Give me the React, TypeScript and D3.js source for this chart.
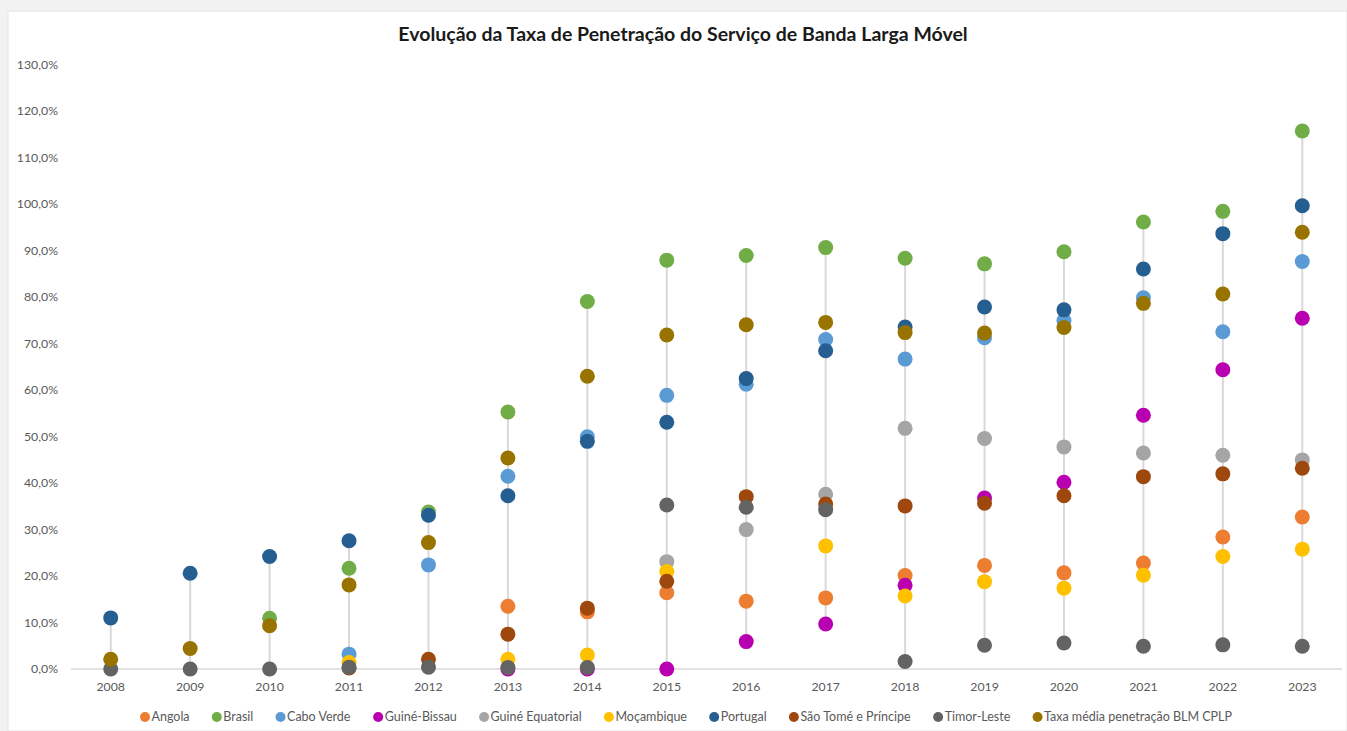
import React from "react";
import * as d3 from "d3";

const years = ["2008","2009","2010","2011","2012","2013","2014","2015","2016","2017","2018","2019","2020","2021","2022","2023"];
const yTicks = [0,10,20,30,40,50,60,70,80,90,100,110,120,130];

const angola = [null,null,null,null,null,13.5,12.3,16.4,14.6,15.3,20.1,22.3,20.7,22.8,28.4,32.7];
const brasil = [null,null,10.9,21.7,33.8,55.3,79.1,88.0,89.0,90.7,88.4,87.2,89.8,96.2,98.5,115.8];
const caboVerde = [null,null,null,3.2,22.4,41.5,50.0,58.9,61.3,70.9,66.7,71.3,75.0,79.9,72.6,87.7];
const guineBissau = [null,null,null,null,null,0,0,0,5.9,9.7,18.0,36.8,40.2,54.6,64.4,75.5];
const guineEquatorial = [null,null,null,null,null,null,null,23.1,30.0,37.6,51.8,49.6,47.8,46.5,46.0,45.0];
const mocambique = [null,null,null,1.4,null,2.1,3.0,21.0,null,26.5,15.7,18.8,17.4,20.2,24.2,25.8];
const portugal = [11.0,20.6,24.2,27.6,33.1,37.3,49.0,53.1,62.5,68.5,73.6,77.9,77.3,86.1,93.7,99.7];
const saoTome = [null,null,null,0.2,2.1,7.5,13.1,18.9,37.1,35.5,35.1,35.7,37.3,41.4,42.0,43.2];
const timor = [0,0,0,0.4,0.4,0.3,0.3,35.3,34.8,34.3,1.6,5.1,5.6,4.9,5.2,4.9];
const taxaMedia = [2.1,4.4,9.3,18.1,27.2,45.4,63.0,71.9,74.1,74.6,72.4,72.3,73.5,78.7,80.7,94.0];

const seriesNames = ["Angola","Brasil","Cabo Verde","Guiné-Bissau","Guiné Equatorial","Moçambique","Portugal","São Tomé e Príncipe","Timor-Leste","Taxa média penetração BLM CPLP"];
const seriesValues = [angola,brasil,caboVerde,guineBissau,guineEquatorial,mocambique,portugal,saoTome,timor,taxaMedia];
const seriesColors = ["#ED7D31","#70AD47","#5B9BD5","#B800B0","#A5A5A5","#FFC000","#255E91","#9E480E","#636363","#997300"];

const W = 1347, H = 731;
const FONT = "Lato, 'Open Sans', sans-serif";

function measure(text: string, size: number, weight = "normal") {
  if (typeof document === "undefined") return text.length * size * 0.5;
  const c = document.createElement("canvas");
  const ctx = c.getContext("2d")!;
  ctx.font = `${weight} ${size}px Lato`;
  return ctx.measureText(text).width;
}

export default function App() {
  const x = d3.scaleBand<string>().domain(years).range([71, 1342]);
  const y = d3.scaleLinear().domain([0, 130]).range([669, 65]);
  const cx = (yr: string) => (x(yr) ?? 0) + x.bandwidth() / 2;

  const ranges = years.map((yr, i) => {
    const vals = seriesValues.map((s) => s[i]).filter((v) => v !== null) as number[];
    return { yr, min: d3.min(vals) ?? 0, max: d3.max(vals) ?? 0 };
  });

  // legend layout
  const legSize = 12.5;
  const markerR = 5;
  const textGap = 1.5;
  const targetLeft = 140, targetRight = 1232;
  const widths = seriesNames.map((n) => markerR * 2 + textGap + measure(n, legSize));
  const itemGap = (targetRight - targetLeft - d3.sum(widths)) / (seriesNames.length - 1);
  let cur = targetLeft;
  const legendPos = widths.map((w) => {
    const p = cur;
    cur += w + itemGap;
    return p;
  });

  return (
    <svg width={W} height={H} style={{ position: "absolute", left: 0, top: 0, display: "block" }} fontFamily={FONT}>
      <rect x={0} y={0} width={W} height={H} fill="#f2f2f2" />
      <rect x={8} y={11} width={W - 8} height={H - 11} fill="#ffffff" stroke="#e3e3e3" />
      <text x={683} y={41} textAnchor="middle" fontSize={19.5} fontWeight="bold" fill="#1a1a1a">
        Evolução da Taxa de Penetração do Serviço de Banda Larga Móvel
      </text>
      {yTicks.map((t) => (
        <text key={t} x={58} y={y(t) + 4} textAnchor="end" fontSize={12.3} fill="#595959">
          {d3.format(".1f")(t).replace(".", ",") + "%"}
        </text>
      ))}
      <line x1={71} x2={1342} y1={y(0)} y2={y(0)} stroke="#d9d9d9" strokeWidth={1.5} />
      {ranges.map((r) => (
        <line key={r.yr} x1={cx(r.yr)} x2={cx(r.yr)} y1={y(r.min)} y2={y(r.max)} stroke="#d9d9d9" strokeWidth={2} />
      ))}
      {years.map((yr) => (
        <text key={yr} x={cx(yr)} y={691} textAnchor="middle" fontSize={12.3} fill="#595959">
          {yr}
        </text>
      ))}
      {seriesValues.map((s, si) => (
        <g key={si}>
          {s.map((v, i) =>
            v === null ? null : (
              <circle key={i} cx={cx(years[i])} cy={y(v)} r={7.5} fill={seriesColors[si]} />
            )
          )}
        </g>
      ))}
      {seriesNames.map((n, i) => (
        <g key={n} transform={`translate(${legendPos[i]},717)`}>
          <circle cx={markerR} cy={0} r={markerR} fill={seriesColors[i]} />
          <text x={markerR * 2 + textGap} y={4.3} fontSize={legSize} fill="#595959">
            {n}
          </text>
        </g>
      ))}
    </svg>
  );
}
